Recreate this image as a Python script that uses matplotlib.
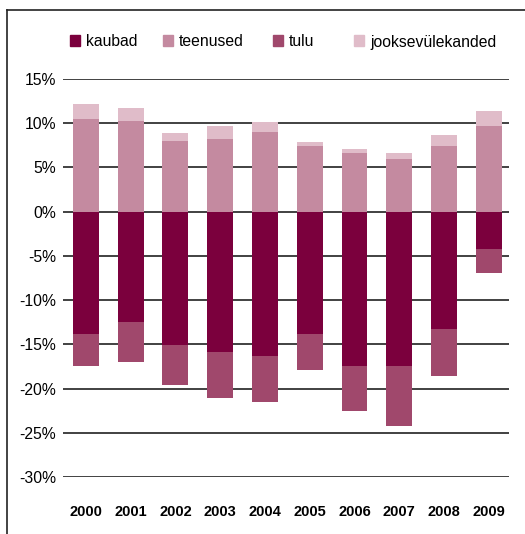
import numpy as np
import matplotlib.pyplot as plt
from matplotlib.patches import Rectangle
from matplotlib.lines import Line2D

plt.rcParams['font.family'] = ['Liberation Sans', 'DejaVu Sans']

years = ['2000', '2001', '2002', '2003', '2004', '2005', '2006', '2007', '2008', '2009']
kaubad = [-13.8, -12.5, -15.1, -15.85, -16.3, -13.8, -17.4, -17.5, -13.3, -4.2]
tulu = [-3.7, -4.45, -4.45, -5.25, -5.25, -4.15, -5.15, -6.7, -5.25, -2.7]
teenused = [10.45, 10.25, 8.0, 8.25, 9.0, 7.45, 6.65, 6.0, 7.45, 9.7]
jooksev = [1.7, 1.45, 0.9, 1.45, 1.15, 0.45, 0.45, 0.65, 1.25, 1.7]

labels = ['kaubad', 'teenused', 'tulu', 'jooksevülekanded']
colors = ['#7b003d', '#c48aa0', '#a0486c', '#e0bcc9']

W, H = 525, 534
fig = plt.figure(figsize=(W / 100, H / 100), dpi=100)
ax = fig.add_axes([63 / W, 1 - 477 / H, (509 - 63) / W, (477 - 79) / H])

x = np.arange(len(years))
wd = 0.58
ax.bar(x, kaubad, wd, color=colors[0], zorder=3)
ax.bar(x, tulu, wd, bottom=kaubad, color=colors[2], zorder=3)
ax.bar(x, teenused, wd, color=colors[1], zorder=3)
ax.bar(x, jooksev, wd, bottom=teenused, color=colors[3], zorder=3)

ticks = np.arange(-30, 16, 5)
for t in ticks:
    ax.axhline(t, color='#333333', lw=1.3, zorder=1)
ax.set_ylim(-30, 15)
ax.set_xlim(-0.51, 9.45)
ax.set_yticks(ticks)
ax.set_yticklabels(['%d%%' % t for t in ticks], fontsize=11.3)
ax.set_xticks(x)
ax.set_xticklabels(years, fontsize=10.5, fontweight='bold')
ax.tick_params(length=0, axis='y', pad=5)
ax.tick_params(length=0, axis='x', pad=20)
for s in ax.spines.values():
    s.set_visible(False)

# legend drawn by hand
sq_x = [70, 163, 273, 354]
for lx, lab, col in zip(sq_x, labels, colors):
    fig.patches.append(Rectangle((lx / W, 1 - 46 / H), 10 / W, 11 / H,
                                 transform=fig.transFigure, color=col))
    fig.text((lx + 16) / W, 1 - 42 / H, lab, fontsize=11.3, va='center')

# outer frame (top and left)
fig.add_artist(Line2D([7 / W, 1], [1 - 10 / H, 1 - 10 / H], color='#222222', lw=1.2))
fig.add_artist(Line2D([7 / W, 7 / W], [0, 1 - 10 / H], color='#222222', lw=1.2))

fig.savefig('out.png', dpi=100)
